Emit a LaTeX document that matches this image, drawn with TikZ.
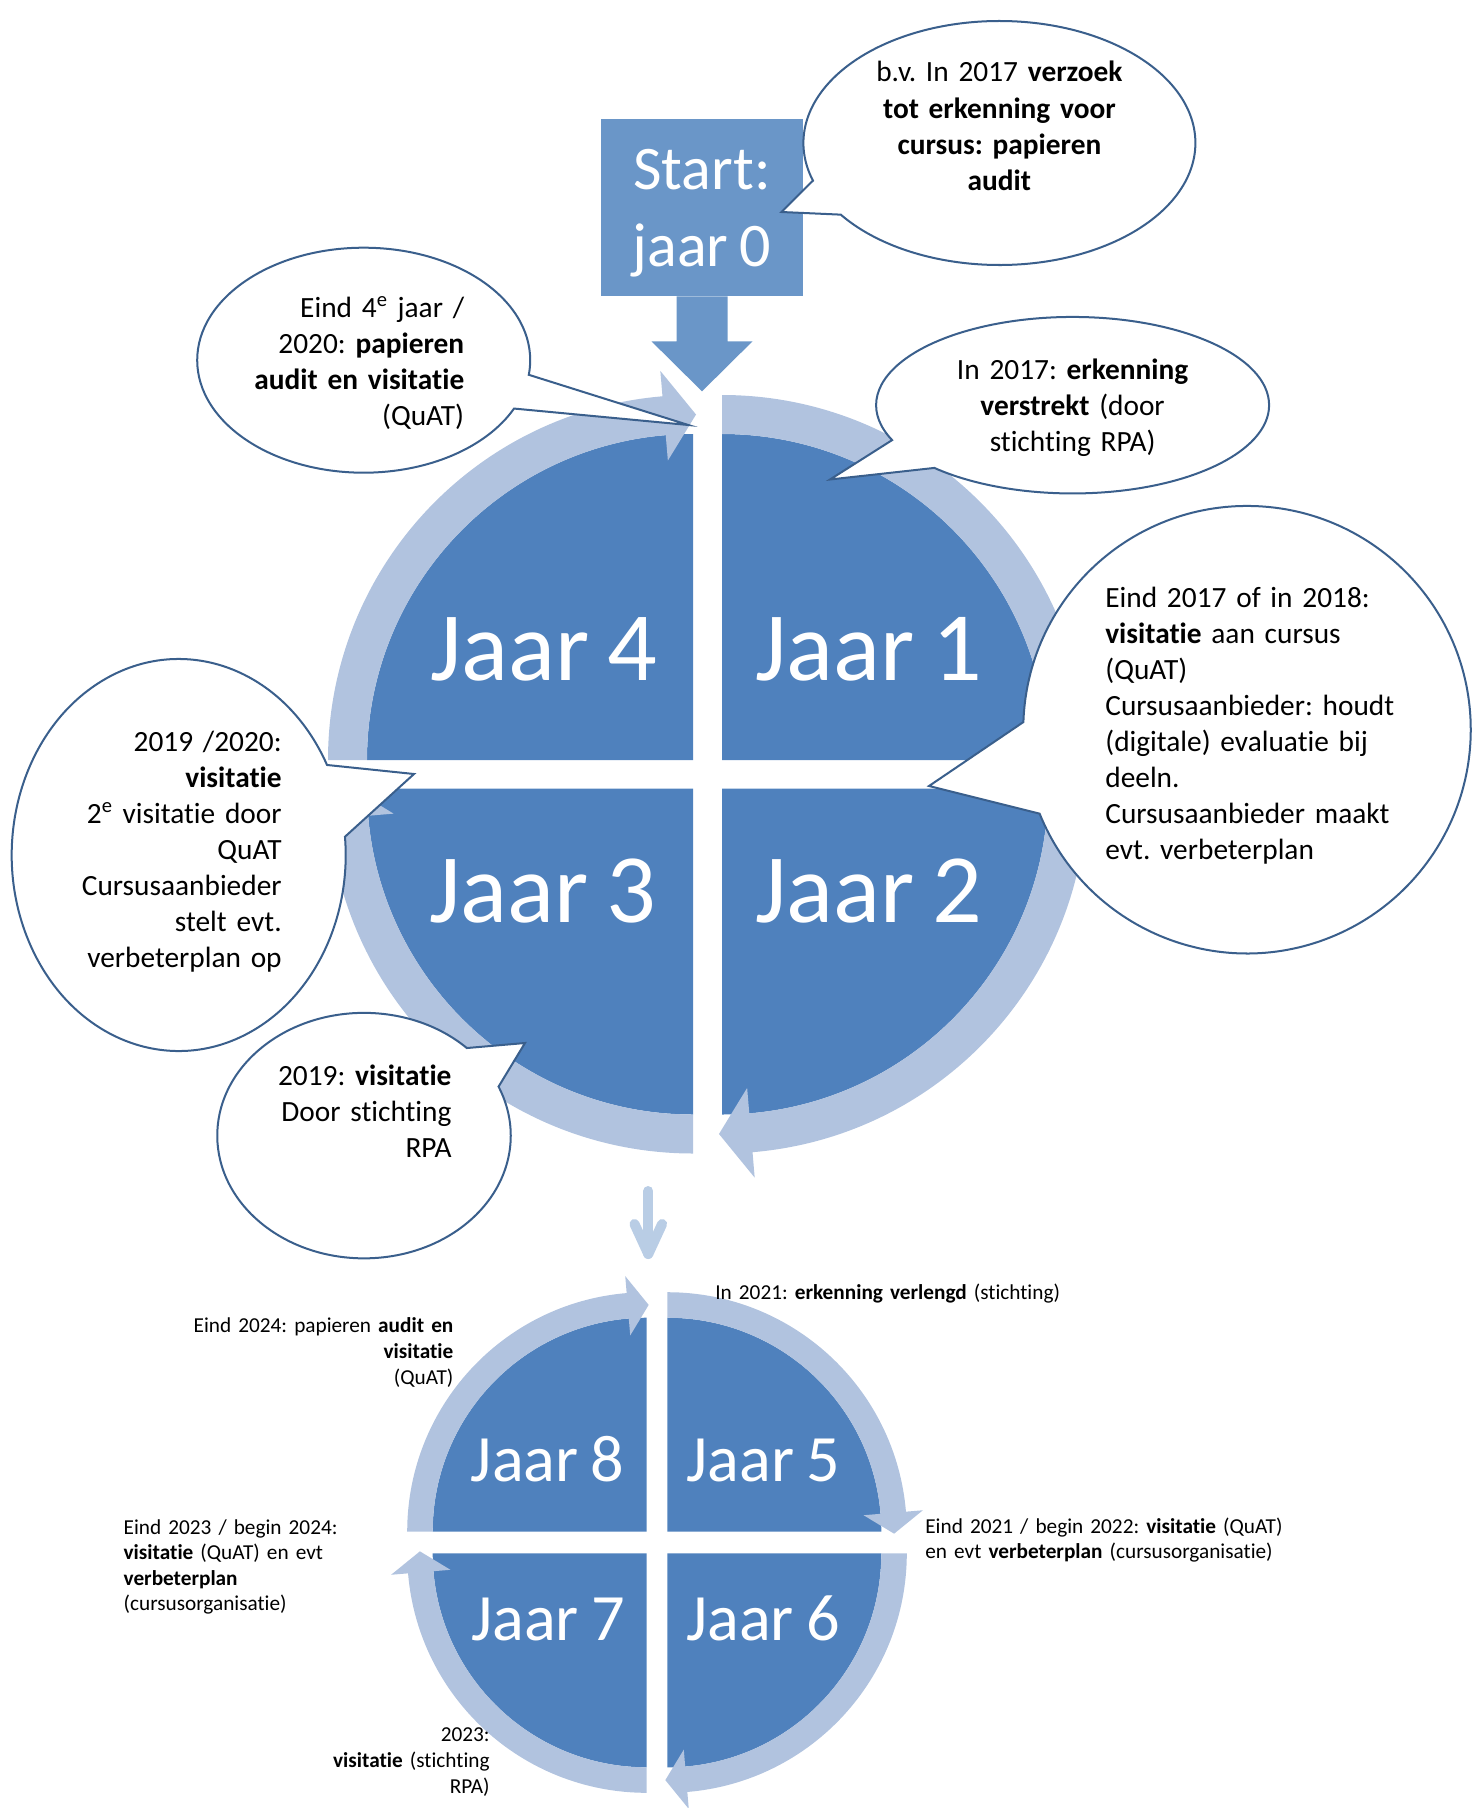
\documentclass[tikz,border=0pt]{standalone}
\usepackage{fontspec}
\setmainfont{Carlito}[Ligatures=NoCommon, WordSpace=0.8]
\frenchspacing
\usetikzlibrary{shapes.callouts,calc}

\definecolor{quadblue}{HTML}{4F81BD}
\definecolor{ringblue}{HTML}{B1C3DF}
\definecolor{startblue}{HTML}{6A96C8}
\definecolor{bubbleline}{HTML}{3A5F8C}
\definecolor{flowblue}{HTML}{B9CDE5}

\begin{document}
\begin{tikzpicture}[x=0.2cm,y=0.2cm]
\tikzstyle{every node}+=[inner sep=0pt]
\tikzstyle{quadrant}=[fill=quadblue]
\tikzstyle{ringarrow}=[fill=ringblue]
\tikzstyle{bubble}=[ellipse callout, draw=bubbleline, fill=white, line width=1.14pt]
\tikzstyle{bigyear}=[text=white, anchor=base, font=\fontsize{55.8pt}{60pt}\selectfont]
\tikzstyle{smallyear}=[text=white, anchor=base, font=\fontsize{37.7pt}{40pt}\selectfont]
\tikzstyle{bubbletext}=[text width=8cm, font=\fontsize{16.7pt}{20.5pt}\selectfont]
\tikzstyle{note}=[text width=8cm, font=\fontsize{12.1pt}{14.6pt}\selectfont]
\tikzstyle{startbox}=[fill=startblue, text=white, align=center, minimum width=4.04cm, minimum height=3.54cm, font=\fontsize{35.3pt}{43.6pt}\selectfont]
\tikzstyle{flowarrow}=[draw=flowblue, line width=5.7pt, line cap=round, line join=round]

\useasboundingbox (0,0) rectangle (147.2,-180.8);

% upper cycle, jaar 1 to jaar 4
\begin{scope}[shift={(72.2,-76.0)}]
\fill[quadrant] (0,0) -- (0:32.6) arc[start angle=0, end angle=90, radius=32.6] -- cycle;
\fill[ringarrow] (90:36.5) arc[start angle=90, end angle=4.8, radius=36.5] -- (4.8:39.05) -- (-0.5:34.55) -- (4.8:30.05) -- (4.8:32.6) arc[start angle=4.8, end angle=90, radius=32.6] -- cycle;
\end{scope}
\begin{scope}[shift={(72.2,-78.85)}]
\fill[quadrant] (0,0) -- (-90:32.6) arc[start angle=-90, end angle=0, radius=32.6] -- cycle;
\fill[ringarrow] (0:36.5) arc[start angle=0, end angle=-85.2, radius=36.5] -- (-85.2:39.05) -- (-90.5:34.55) -- (-85.2:30.05) -- (-85.2:32.6) arc[start angle=-85.2, end angle=0, radius=32.6] -- cycle;
\end{scope}
\begin{scope}[shift={(69.3,-78.85)}]
\fill[quadrant] (0,0) -- (180:32.6) arc[start angle=180, end angle=270, radius=32.6] -- cycle;
\fill[ringarrow] (-90:36.5) arc[start angle=-90, end angle=-175.2, radius=36.5] -- (-175.2:39.05) -- (-180.5:34.55) -- (-175.2:30.05) -- (-175.2:32.6) arc[start angle=-175.2, end angle=-90, radius=32.6] -- cycle;
\end{scope}
\begin{scope}[shift={(69.3,-76.0)}]
\fill[quadrant] (0,0) -- (90:32.6) arc[start angle=90, end angle=180, radius=32.6] -- cycle;
\fill[ringarrow] (180:36.5) arc[start angle=180, end angle=94.8, radius=36.5] -- (94.8:39.05) -- (89.5:34.55) -- (94.8:30.05) -- (94.8:32.6) arc[start angle=94.8, end angle=180, radius=32.6] -- cycle;
\end{scope}

\node[bigyear] (jaar1) at (86.9,-68.0) {Jaar 1};
\node[bigyear] (jaar2) at (86.9,-92.2) {Jaar 2};
\node[bigyear] (jaar3) at (54.3,-92.2) {Jaar 3};
\node[bigyear] (jaar4) at (54.4,-68.0) {Jaar 4};

% lower cycle, jaar 5 to jaar 8
\begin{scope}[shift={(66.73,-153.17)}]
\fill[quadrant] (0,0) -- (0:21.4) arc[start angle=0, end angle=90, radius=21.4] -- cycle;
\fill[ringarrow] (90:23.95) arc[start angle=90, end angle=4.8, radius=23.95] -- (4.8:25.65) -- (-0.5:22.68) -- (4.8:19.7) -- (4.8:21.4) arc[start angle=4.8, end angle=90, radius=21.4] -- cycle;
\end{scope}
\begin{scope}[shift={(66.73,-155.33)}]
\fill[quadrant] (0,0) -- (-90:21.4) arc[start angle=-90, end angle=0, radius=21.4] -- cycle;
\fill[ringarrow] (0:23.95) arc[start angle=0, end angle=-85.2, radius=23.95] -- (-85.2:25.65) -- (-90.5:22.68) -- (-85.2:19.7) -- (-85.2:21.4) arc[start angle=-85.2, end angle=0, radius=21.4] -- cycle;
\end{scope}
\begin{scope}[shift={(64.67,-155.33)}]
\fill[quadrant] (0,0) -- (180:21.4) arc[start angle=180, end angle=270, radius=21.4] -- cycle;
\fill[ringarrow] (-90:23.95) arc[start angle=-90, end angle=-175.2, radius=23.95] -- (-175.2:25.65) -- (-180.5:22.68) -- (-175.2:19.7) -- (-175.2:21.4) arc[start angle=-175.2, end angle=-90, radius=21.4] -- cycle;
\end{scope}
\begin{scope}[shift={(64.67,-153.17)}]
\fill[quadrant] (0,0) -- (90:21.4) arc[start angle=90, end angle=180, radius=21.4] -- cycle;
\fill[ringarrow] (180:23.95) arc[start angle=180, end angle=94.8, radius=23.95] -- (94.8:25.65) -- (89.5:22.68) -- (94.8:19.7) -- (94.8:21.4) arc[start angle=94.8, end angle=180, radius=21.4] -- cycle;
\end{scope}

\node[smallyear] (jaar5) at (76.33,-148.17) {Jaar 5};
\node[smallyear] (jaar6) at (76.3,-164.07) {Jaar 6};
\node[smallyear] (jaar7) at (54.8,-164.07) {Jaar 7};
\node[smallyear] (jaar8) at (54.75,-148.17) {Jaar 8};

% start box
\node[startbox] (start) at (70.2,-20.75) {\rule{0pt}{1.04cm}Start:\\jaar 0};
\fill[startblue] ($(start.south)+(-2.55,0)$) -- ++(0,-4.5) -- ++(-2.5,0) -- ++(5.05,-5) -- ++(5.05,5) -- ++(-2.5,0) -- ++(0,4.5) -- cycle;

% arrow to the second cycle
\coordinate (flowtop) at (64.83,-119.1);
\coordinate (flowtip) at (64.83,-125.4);
\draw[flowarrow] (flowtop) -- (flowtip);
\draw[flowarrow] ($(flowtip)+(-1.38,3.0)$) -- (flowtip) -- ($(flowtip)+(1.38,3.0)$);

% callouts
\node[bubble, minimum width=7.84cm, minimum height=4.88cm, callout pointer arc=18, callout absolute pointer={(78.15,-21.2)}] (verzoek) at (99.94,-14.3) {};
\node[bubbletext, align=center, anchor=base] (verzoektext) at (99.94,-8.2) {b.v. In 2017 \textbf{verzoek}\\\textbf{tot erkenning voor}\\\textbf{cursus: papieren}\\\textbf{audit}};

\node[bubble, minimum width=6.66cm, minimum height=4.5cm, callout pointer arc=18, callout absolute pointer={(68.83,-42.5)}] (eind4) at (36.37,-36.02) {};
\node[bubbletext, align=right, anchor=base east] (eind4text) at (46.45,-31.75) {Eind 4\textsuperscript{e} jaar /\\2020: \textbf{papieren}\\\textbf{audit en visitatie}\\(QuAT)};

\node[bubble, minimum width=7.86cm, minimum height=3.53cm, callout pointer arc=22, callout absolute pointer={(83.0,-47.95)}] (erkend) at (107.26,-40.52) {};
\node[bubbletext, align=center, anchor=base] (erkendtext) at (107.26,-37.94) {In 2017: \textbf{erkenning}\\\textbf{verstrekt} (door\\stichting RPA)};

\node[bubble, minimum width=8.95cm, minimum height=8.95cm, callout pointer arc=24, callout absolute pointer={(92.9,-78.6)}] (visit1) at (124.7,-72.97) {};
\node[bubbletext, align=left, anchor=base west] (visit1text) at (110.5,-60.73) {Eind 2017 of in 2018:\\\textbf{visitatie} aan cursus\\(QuAT)\\Cursusaanbieder: houdt\\(digitale) evaluatie bij\\deeln.\\Cursusaanbieder maakt\\evt. verbeterplan};

\node[bubble, minimum width=6.68cm, minimum height=7.84cm, callout pointer arc=22, callout absolute pointer={(41.4,-77.4)}] (visit2) at (17.87,-85.5) {};
\node[bubbletext, align=right, anchor=base east] (visit2text) at (28.2,-75.17) {2019 /2020:\\\textbf{visitatie}\\2\textsuperscript{e} visitatie door\\QuAT\\Cursusaanbieder\\stelt evt.\\verbeterplan op};

\node[bubble, minimum width=5.87cm, minimum height=4.91cm, callout pointer arc=22, callout absolute pointer={(52.5,-104.3)}] (visit3) at (36.4,-113.56) {};
\node[bubbletext, align=right, anchor=base east] (visit3text) at (45.18,-108.5) {2019: \textbf{visitatie}\\Door stichting\\RPA};

% notes at the second cycle
\node[note, align=left, anchor=base west] (verlengd) at (71.5,-129.9) {In 2021: \textbf{erkenning verlengd} (stichting)};
\node[note, align=left, anchor=base west] (visit5) at (92.5,-153.33) {Eind 2021 / begin 2022: \textbf{visitatie} (QuAT)\\en evt \textbf{verbeterplan} (cursusorganisatie)};
\node[note, align=right, anchor=base east] (audit8) at (45.37,-133.27) {Eind 2024: papieren \textbf{audit en}\\\textbf{visitatie}\\(QuAT)};
\node[note, align=left, anchor=base west] (visit7) at (12.33,-153.4) {Eind 2023 / begin 2024:\\\textbf{visitatie} (QuAT) en evt\\\textbf{verbeterplan}\\(cursusorganisatie)};
\node[note, align=right, anchor=base east] (visit6) at (49.0,-174.17) {2023:\\\textbf{visitatie} (stichting\\RPA)};
\end{tikzpicture}
\end{document}
